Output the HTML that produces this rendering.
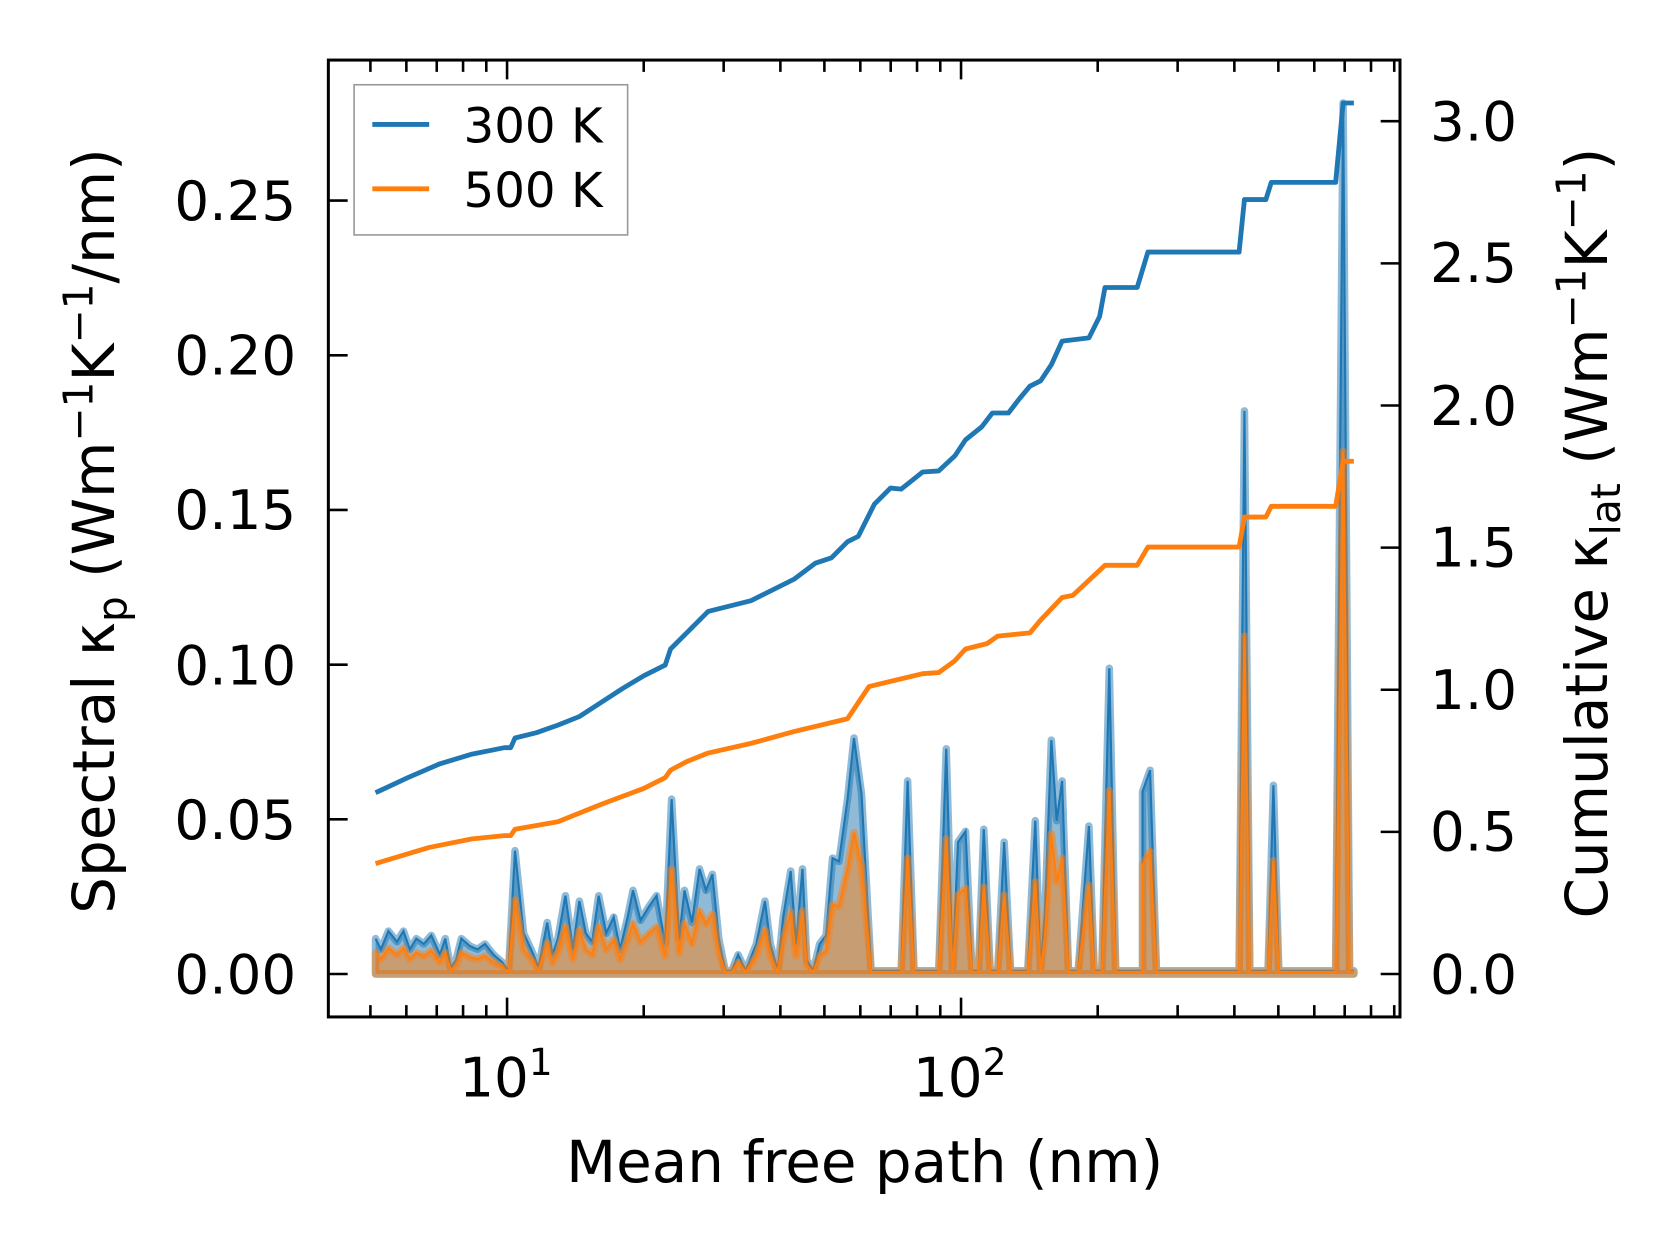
<!DOCTYPE html>
<html><head><meta charset="utf-8"><style>
html,body{margin:0;padding:0;background:#fff;}
svg{display:block;}
text{font-family:"DejaVu Sans","Liberation Sans",sans-serif;fill:#000;}
</style></head><body>
<svg id="s" width="1679" height="1254" viewBox="0 0 1565 1169" xmlns="http://www.w3.org/2000/svg">
<rect width="1565" height="1169" fill="#fff"/>
<g id="data"></g>
<g id="ticks" stroke="#000" stroke-width="2.4"></g>
<rect x="306" y="56" width="999" height="892" fill="none" stroke="#000" stroke-width="2.8"/>
<g font-size="51" text-anchor="end">
<text x="276" y="926">0.00</text>
<text x="276" y="782">0.05</text>
<text x="276" y="638">0.10</text>
<text x="276" y="493">0.15</text>
<text x="276" y="349">0.20</text>
<text x="276" y="205">0.25</text>
</g>
<g font-size="51" text-anchor="start">
<text x="1333" y="926">0.0</text>
<text x="1333" y="793">0.5</text>
<text x="1333" y="661">1.0</text>
<text x="1333" y="528">1.5</text>
<text x="1333" y="396">2.0</text>
<text x="1333" y="263">2.5</text>
<text x="1333" y="131">3.0</text>
</g>
<g font-size="51">
<text x="428" y="1022">10<tspan font-size="35" dy="-20">1</tspan></text>
<text x="851" y="1022">10<tspan font-size="35" dy="-20">2</tspan></text>
</g>
<text x="806" y="1102" font-size="54" text-anchor="middle">Mean free path (nm)</text>
<text transform="translate(106,495) rotate(-90)" font-size="54" text-anchor="middle">Spectral κ<tspan font-size="38" dy="12">p</tspan><tspan dy="-12"> (Wm</tspan><tspan font-size="38" dy="-20">−1</tspan><tspan dy="20">K</tspan><tspan font-size="38" dy="-20">−1</tspan><tspan dy="20">/nm)</tspan></text>
<text transform="translate(1498,497) rotate(-90)" font-size="54" text-anchor="middle">Cumulative κ<tspan font-size="38" dy="12">lat</tspan><tspan dy="-12"> (Wm</tspan><tspan font-size="38" dy="-20">−1</tspan><tspan dy="20">K</tspan><tspan font-size="38" dy="-20">−1</tspan><tspan dy="20">)</tspan></text>
<rect x="330" y="79" width="255" height="140" fill="#fff" fill-opacity="0.8" stroke="#999" stroke-width="1.5"/>
<line x1="347" y1="116" x2="400" y2="116" stroke="#1f77b4" stroke-width="4.5"/>
<line x1="347" y1="176" x2="400" y2="176" stroke="#ff7f0e" stroke-width="4.5"/>
<text x="432" y="133" font-size="45">300 K</text>
<text x="432" y="193" font-size="45">500 K</text>
</svg>
<script>
var NS="http://www.w3.org/2000/svg";
function el(t,a,p){var e=document.createElementNS(NS,t);for(var k in a)e.setAttribute(k,a[k]);p.appendChild(e);return e;}
var g=document.getElementById('data'), tk=document.getElementById('ticks');
var b=[350,875,355,885,362,868,370,878,376,868,382,885,388,875,395,880,402,872,410,890,415,875,420,902,425,895,430,875,438,882,445,885,452,880,460,890,468,897,474,905,480,793,488,870,495,885,502,902,510,860,515,890,520,875,527,835,534,885,540,840,546,870,552,878,558,835,565,870,572,855,578,885,585,855,590,830,597,858,605,845,612,835,620,880,626,745,633,875,638,830,645,860,652,810,658,830,664,815,670,875,676,905,682,905,688,890,695,905,705,880,713,840,718,880,725,905,730,855,737,812,742,880,748,810,752,895,758,905,764,880,770,872,776,800,782,803,790,745,796,688,803,740,812,905,840,905,846,728,852,905,875,905,882,698,888,905,893,785,900,775,906,905,912,905,917,773,923,905,930,905,936,785,942,905,958,905,965,765,970,905,974,850,980,690,985,765,990,728,996,905,1005,905,1015,770,1020,905,1027,905,1034,623,1040,905,1065,905,1065,738,1072,718,1078,905,1155,905,1160,383,1165,905,1182,905,1187,732,1192,905,1245,905,1252,96,1258,905,1262,905];
function pts(arr,f){var s=[];for(var i=0;i<arr.length;i+=2){s.push(arr[i]+','+(908-(908-arr[i+1])*f).toFixed(1));}return s;}
function area(arr,f,c){var p=pts(arr,f);var d='M350,908 L'+p.join(' L')+' L1262,908 Z';
el('path',{d:d,fill:c,'fill-opacity':0.5,stroke:c,'stroke-opacity':0.5,'stroke-width':7,'stroke-linejoin':'round'},g);
el('polyline',{points:p.join(' '),fill:'none',stroke:c,'stroke-width':2},g);}
area(b,1,'#1f77b4');area(b,0.6,'#ff7f0e');
var cb=[350,739,380,725,410,712,440,703,470,697,476,697,480,688,500,683,520,676,540,668,560,655,580,642,600,630,620,620,625,605,640,590,660,570,680,565,700,560,720,550,740,540,760,525,775,520,790,505,800,500,815,470,830,455,840,456,860,440,875,439,890,425,900,410,915,398,925,385,940,385,950,372,960,360,970,355,980,340,990,318,1015,315,1025,295,1030,268,1060,268,1070,235,1155,235,1160,186,1180,186,1185,170,1245,170,1252,96,1262,96];
var co=[350,805,400,790,440,782,470,779,476,779,480,773,520,766,560,750,600,735,620,725,625,718,640,710,660,702,700,693,740,682,790,670,800,655,810,640,860,628,875,627,890,616,900,605,920,600,930,593,960,590,970,578,990,557,1000,555,1030,527,1060,527,1070,510,1155,510,1160,482,1180,482,1185,472,1245,472,1252,430,1262,430];
el('polyline',{points:pts(cb,1).join(' '),fill:'none',stroke:'#1f77b4','stroke-width':4.5,'stroke-linejoin':'round'},g);
el('polyline',{points:pts(co,1).join(' '),fill:'none',stroke:'#ff7f0e','stroke-width':4.5,'stroke-linejoin':'round'},g);
var X10=472.6,D=423.2;
function lx(v){return X10+(Math.log10(v)-1)*D;}
for(var dec=1;dec<=100;dec*=10){for(var m=1;m<10;m++){var v=m*dec;var x=lx(v);if(x<306||x>1305)continue;var L=(m==1)?18:11;
el('line',{x1:x,y1:948,x2:x,y2:948-L},tk);el('line',{x1:x,y1:56,x2:x,y2:56+L},tk);}}
for(var i=0;i<6;i++){var y=908-i*144.2;el('line',{x1:306,y1:y,x2:324,y2:y},tk);}
for(var i=0;i<7;i++){var y=908-i*132.5;el('line',{x1:1305,y1:y,x2:1287,y2:y},tk);}
</script>
</body></html>
